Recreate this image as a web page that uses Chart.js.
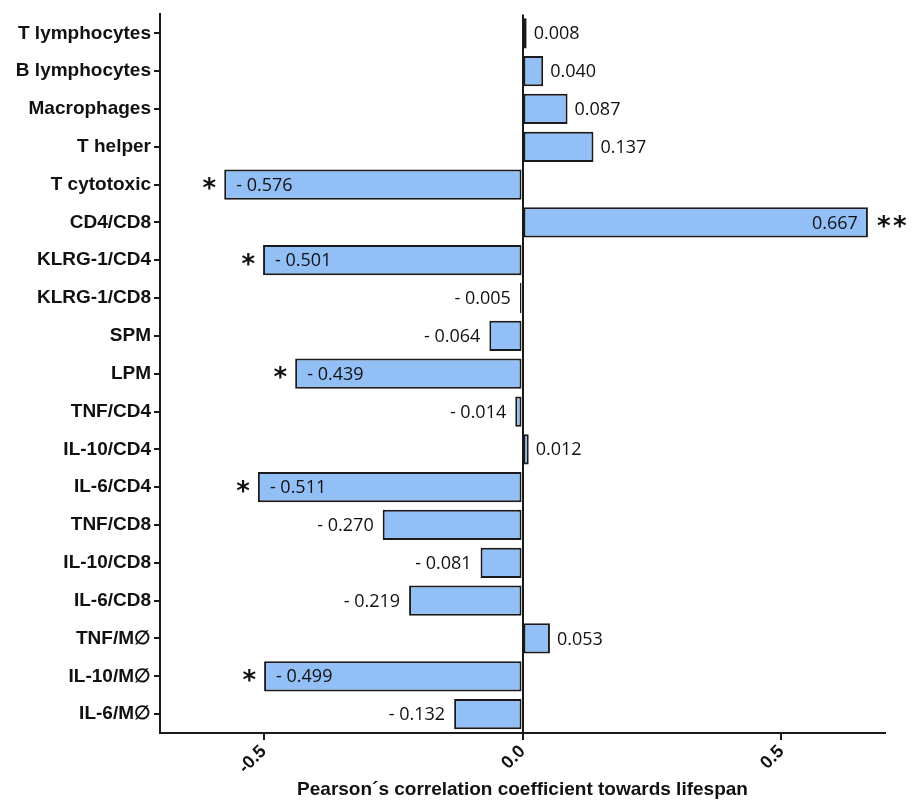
<!DOCTYPE html>
<html>
<head>
    <title>Correlation towards lifespan</title>
    <script src="https://cdn.jsdelivr.net/npm/chart.js"></script>
    <style>
        body { margin: 0; background: #fff; }
        #wrap { width: 913px; height: 801px; }
    </style>
</head>
<body>
<div id="wrap"><canvas id="corrChart"></canvas></div>
<script>
    // data
    var categories = ['T lymphocytes', 'B lymphocytes', 'Macrophages', 'T helper', 'T cytotoxic',
        'CD4/CD8', 'KLRG-1/CD4', 'KLRG-1/CD8', 'SPM', 'LPM', 'TNF/CD4', 'IL-10/CD4', 'IL-6/CD4',
        'TNF/CD8', 'IL-10/CD8', 'IL-6/CD8', 'TNF/M\u2205', 'IL-10/M\u2205', 'IL-6/M\u2205'];
    var values = [0.008, 0.040, 0.087, 0.137, -0.576, 0.667, -0.501, -0.005, -0.064, -0.439,
        -0.014, 0.012, -0.511, -0.270, -0.081, -0.219, 0.053, -0.499, -0.132];
    var stars = ['', '', '', '', '*', '**', '*', '', '', '*', '', '', '*', '', '', '', '', '*', ''];
    var xTicks = [-0.5, 0, 0.5];

    function fmt(v) {
        return v < 0 ? '- ' + Math.abs(v).toFixed(3) : v.toFixed(3);
    }

    // value labels + significance stars
    var valueLabels = {
        id: 'valueLabels',
        afterDatasetsDraw: function (chart) {
            var ctx = chart.ctx;
            var meta = chart.getDatasetMeta(0);
            ctx.save();
            ctx.textBaseline = 'middle';
            meta.data.forEach(function (bar, i) {
                var v = values[i];
                var inside = Math.abs(v) > 0.4;
                var y = bar.y + 1;
                ctx.font = '18px "Open Sans"';
                ctx.fillStyle = '#111';
                if (v >= 0) {
                    if (inside) {
                        ctx.textAlign = 'right';
                        ctx.fillText(fmt(v), bar.x - 10, y);
                    } else {
                        ctx.textAlign = 'left';
                        ctx.fillText(fmt(v), bar.x + 7, y);
                    }
                } else {
                    if (inside) {
                        ctx.textAlign = 'left';
                        ctx.fillText(fmt(v), bar.x + 12, y);
                    } else {
                        ctx.textAlign = 'right';
                        ctx.fillText(fmt(v), bar.x - 9, y);
                    }
                }
                if (stars[i]) {
                    ctx.font = 'bold 26px "DejaVu Sans"';
                    ctx.fillStyle = '#111';
                    if (v < 0) {
                        ctx.textAlign = 'right';
                        ctx.fillText(stars[i], bar.x - 8, y + 5);
                    } else {
                        ctx.textAlign = 'left';
                        ctx.fillText(stars[i].split('').join('\u200a'), bar.x + 9, y + 5);
                    }
                }
            });
            ctx.restore();
        }
    };

    new Chart(document.getElementById('corrChart'), {
        type: 'bar',
        data: {
            labels: categories,
            datasets: [{
                data: values,
                backgroundColor: '#92bff6',
                borderColor: '#1a1a1a',
                borderWidth: 2,
                borderSkipped: false,
                barPercentage: 0.8,
                categoryPercentage: 1.0
            }]
        },
        options: {
            indexAxis: 'y',
            responsive: true,
            maintainAspectRatio: false,
            animation: false,
            layout: { padding: { top: 10, right: 28, left: 0, bottom: 0 } },
            plugins: {
                legend: { display: false },
                tooltip: { enabled: false }
            },
            scales: {
                x: {
                    min: -0.7,
                    max: 0.7,
                    afterBuildTicks: function (scale) {
                        scale.ticks = xTicks.map(function (v) { return { value: v }; });
                    },
                    afterFit: function (scale) { scale.height = 68; },
                    ticks: {
                        minRotation: 45,
                        maxRotation: 45,
                        color: '#111',
                        padding: 1,
                        font: { family: 'Liberation Sans', weight: 'bold', size: 18 },
                        callback: function (v) { return v.toFixed(1); }
                    },
                    grid: {
                        color: function (c) { return c.tick && c.tick.value === 0 ? '#1a1a1a' : 'rgba(0,0,0,0)'; },
                        lineWidth: 2,
                        tickColor: '#1a1a1a',
                        tickLength: 7
                    },
                    border: { color: '#1a1a1a', width: 2 },
                    title: {
                        display: true,
                        text: 'Pearson\u00b4s correlation coefficient towards lifespan',
                        color: '#111',
                        font: { family: 'Liberation Sans', weight: 'bold', size: 19 },
                        padding: { top: 0, bottom: 0 }
                    }
                },
                y: {
                    afterFit: function (scale) { scale.width = 160; },
                    ticks: {
                        color: '#111',
                        padding: 3,
                        font: { family: 'Liberation Sans', weight: 'bold', size: 19 }
                    },
                    grid: {
                        offset: false,
                        drawOnChartArea: false,
                        tickColor: '#1a1a1a',
                        tickLength: 6,
                        lineWidth: 2
                    },
                    border: { color: '#1a1a1a', width: 2 }
                }
            }
        },
        plugins: [valueLabels]
    });
</script>
</body>
</html>
